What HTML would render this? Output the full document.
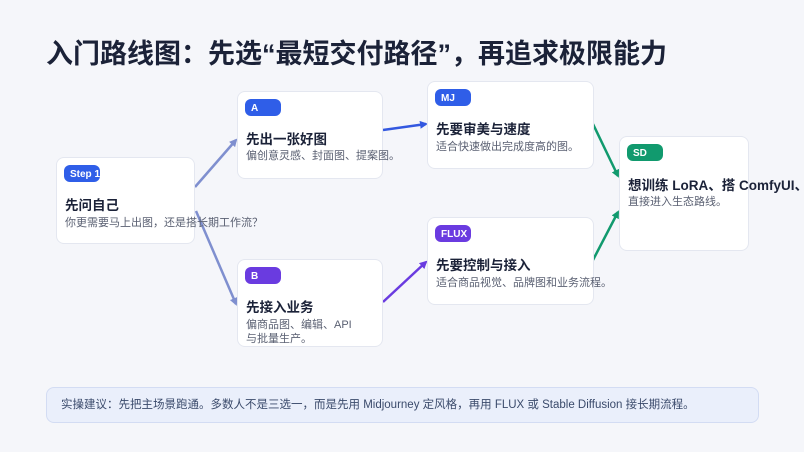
<!DOCTYPE html><html><head><meta charset="utf-8"><style>
body{margin:0;width:804px;height:452px;background:#f5f6fa;font-family:"Liberation Sans","Noto Sans CJK SC",sans-serif;position:relative;overflow:hidden}
.t{position:absolute;left:46px;top:32px;font-size:27px;font-weight:bold;color:#1b2238;white-space:nowrap}
.c{position:absolute;background:#fff;border:1px solid #e4e7f0;border-radius:8px;box-sizing:border-box;overflow:visible}
.b{position:absolute;left:7px;top:7px;width:36px;height:17px;border-radius:6px;color:#fff;font-size:10px;font-weight:bold;line-height:19px;padding-left:6px;box-sizing:border-box;overflow:hidden;white-space:nowrap}
.h{position:absolute;left:8px;font-size:13.5px;font-weight:bold;color:#1b2238;white-space:nowrap}
.d{position:absolute;left:8px;font-size:11px;color:#5a6072;line-height:14px;white-space:nowrap}
.n{position:absolute;left:46px;top:387px;width:713px;height:36px;box-sizing:border-box;background:#eaeffb;border:1px solid #d3dcf3;border-radius:8px;font-size:11.5px;color:#3a4a6b;line-height:34px;padding-left:14px}
svg{position:absolute;left:0;top:0}
</style></head><body>
<div class="t">入门路线图：先选“最短交付路径”，再追求极限能力</div>
<svg width="804" height="452"><defs>
<marker id="m1" markerWidth="8" markerHeight="8" refX="6" refY="4" orient="auto" markerUnits="userSpaceOnUse"><path d="M0,0L8,4L0,8z" fill="#7f8fcf"/></marker>
<marker id="m2" markerWidth="8" markerHeight="8" refX="6" refY="4" orient="auto" markerUnits="userSpaceOnUse"><path d="M0,0L8,4L0,8z" fill="#3358e0"/></marker>
<marker id="m3" markerWidth="8" markerHeight="8" refX="6" refY="4" orient="auto" markerUnits="userSpaceOnUse"><path d="M0,0L8,4L0,8z" fill="#6a3be0"/></marker>
<marker id="m4" markerWidth="8" markerHeight="8" refX="6" refY="4" orient="auto" markerUnits="userSpaceOnUse"><path d="M0,0L8,4L0,8z" fill="#119a6e"/></marker>
</defs>
<g stroke-width="2.5" fill="none">
<line x1="195" y1="187" x2="236" y2="140" stroke="#7f8fcf" marker-end="url(#m1)"/>
<line x1="196" y1="211" x2="236" y2="304" stroke="#7f8fcf" marker-end="url(#m1)"/>
<line x1="383" y1="130" x2="426" y2="124" stroke="#3358e0" marker-end="url(#m2)"/>
<line x1="383" y1="302" x2="426" y2="262" stroke="#6a3be0" marker-end="url(#m3)"/>
<line x1="593" y1="124" x2="618" y2="176" stroke="#119a6e" marker-end="url(#m4)"/>
<line x1="593" y1="260" x2="618" y2="212" stroke="#119a6e" marker-end="url(#m4)"/>
</g></svg>
<div class="c" style="left:56px;top:157px;width:139px;height:87px"><div class="b" style="background:#2f5ee8">Step 1</div><div class="h" style="top:36px">先问自己</div><div class="d" style="top:58px">你更需要马上出图，还是搭长期工作流？</div></div>
<div class="c" style="left:237px;top:91px;width:146px;height:88px"><div class="b" style="background:#2f5ee8">A</div><div class="h" style="top:36px">先出一张好图</div><div class="d" style="top:57px">偏创意灵感、封面图、提案图。</div></div>
<div class="c" style="left:237px;top:259px;width:146px;height:88px"><div class="b" style="background:#6a3be0">B</div><div class="h" style="top:36px">先接入业务</div><div class="d" style="top:58px">偏商品图、编辑、API<br>与批量生产。</div></div>
<div class="c" style="left:427px;top:81px;width:167px;height:88px"><div class="b" style="background:#2f5ee8">MJ</div><div class="h" style="top:36px">先要审美与速度</div><div class="d" style="top:58px">适合快速做出完成度高的图。</div></div>
<div class="c" style="left:427px;top:217px;width:167px;height:88px"><div class="b" style="background:#6a3be0">FLUX</div><div class="h" style="top:36px">先要控制与接入</div><div class="d" style="top:58px">适合商品视觉、品牌图和业务流程。</div></div>
<div class="c" style="left:619px;top:136px;width:130px;height:115px"><div class="b" style="background:#119a6e">SD</div><div class="h" style="top:37px">想训练 LoRA、搭 ComfyUI、</div><div class="d" style="top:58px">直接进入生态路线。</div></div>
<div class="n">实操建议：先把主场景跑通。多数人不是三选一，而是先用 Midjourney 定风格，再用 FLUX 或 Stable Diffusion 接长期流程。</div>
</body></html>
